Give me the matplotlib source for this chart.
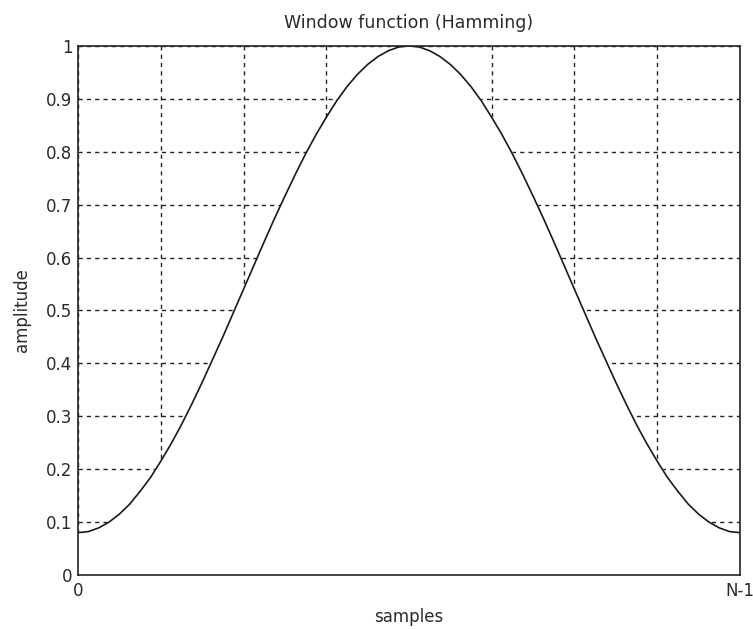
import matplotlib.pyplot as plt

# amplitude of the window at 65 evenly spaced positions from 0 to N-1
amplitude = [0.080, 0.082, 0.089, 0.100, 0.115, 0.134, 0.158, 0.184,
             0.215, 0.248, 0.284, 0.323, 0.364, 0.407, 0.450, 0.495,
             0.540, 0.585, 0.630, 0.674, 0.716, 0.757, 0.796, 0.832,
             0.865, 0.896, 0.923, 0.946, 0.965, 0.980, 0.991, 0.998,
             1.000,
             0.998, 0.991, 0.980, 0.965, 0.946, 0.923, 0.896, 0.865,
             0.832, 0.796, 0.757, 0.716, 0.674, 0.630, 0.585, 0.540,
             0.495, 0.450, 0.407, 0.364, 0.323, 0.284, 0.248, 0.215,
             0.184, 0.158, 0.134, 0.115, 0.100, 0.089, 0.082, 0.080]
samples = [i / 64 for i in range(len(amplitude))]

x_ticks = [i / 8 for i in range(9)]
x_tick_labels = ['0', '', '', '', '', '', '', '', 'N-1']
y_ticks = [i / 10 for i in range(11)]
y_tick_labels = ['0', '0.1', '0.2', '0.3', '0.4', '0.5', '0.6', '0.7', '0.8', '0.9', '1']


def draw_window():
    """рисует оконную функцию Хэмминга"""
    plt.rcParams['font.family'] = ['DejaVu Sans']
    fig = plt.figure(figsize=(7.53, 6.29), dpi=100)
    ax = fig.add_axes([0.1036, 0.0859, 0.8791, 0.841])

    ax.set_xlim(0, 1)
    ax.set_ylim(0, 1)
    ax.set_xticks(x_ticks)
    ax.set_xticklabels(x_tick_labels)
    ax.set_yticks(y_ticks)
    ax.set_yticklabels(y_tick_labels)
    ax.tick_params(axis='y', direction='in', length=0, labelsize=12, colors='#2a2a2a', pad=4)
    ax.tick_params(axis='x', direction='in', length=0, labelsize=12, colors='#2a2a2a', pad=5)
    ax.grid(True, color='#222222', linestyle=(0, (3, 3)), linewidth=1.0)
    ax.set_axisbelow(True)

    # area under the curve hides the grid
    ax.fill_between(samples, 0, amplitude, color='white', zorder=1.5)
    ax.plot(samples, amplitude, color='#1a1a1a', linewidth=1.2, zorder=3)

    for spine in ax.spines.values():
        spine.set_color('#222222')
        spine.set_linewidth(1.2)
        spine.set_zorder(4)

    ax.set_title('Window function (Hamming)', fontsize=12.5, color='#2a2a2a', pad=13)
    ax.set_xlabel('samples', fontsize=12, color='#2a2a2a', labelpad=6)
    ax.set_ylabel('amplitude', fontsize=12, color='#2a2a2a', labelpad=11)
    fig.savefig('out.png', dpi=100)


if __name__ == '__main__':
    draw_window()
